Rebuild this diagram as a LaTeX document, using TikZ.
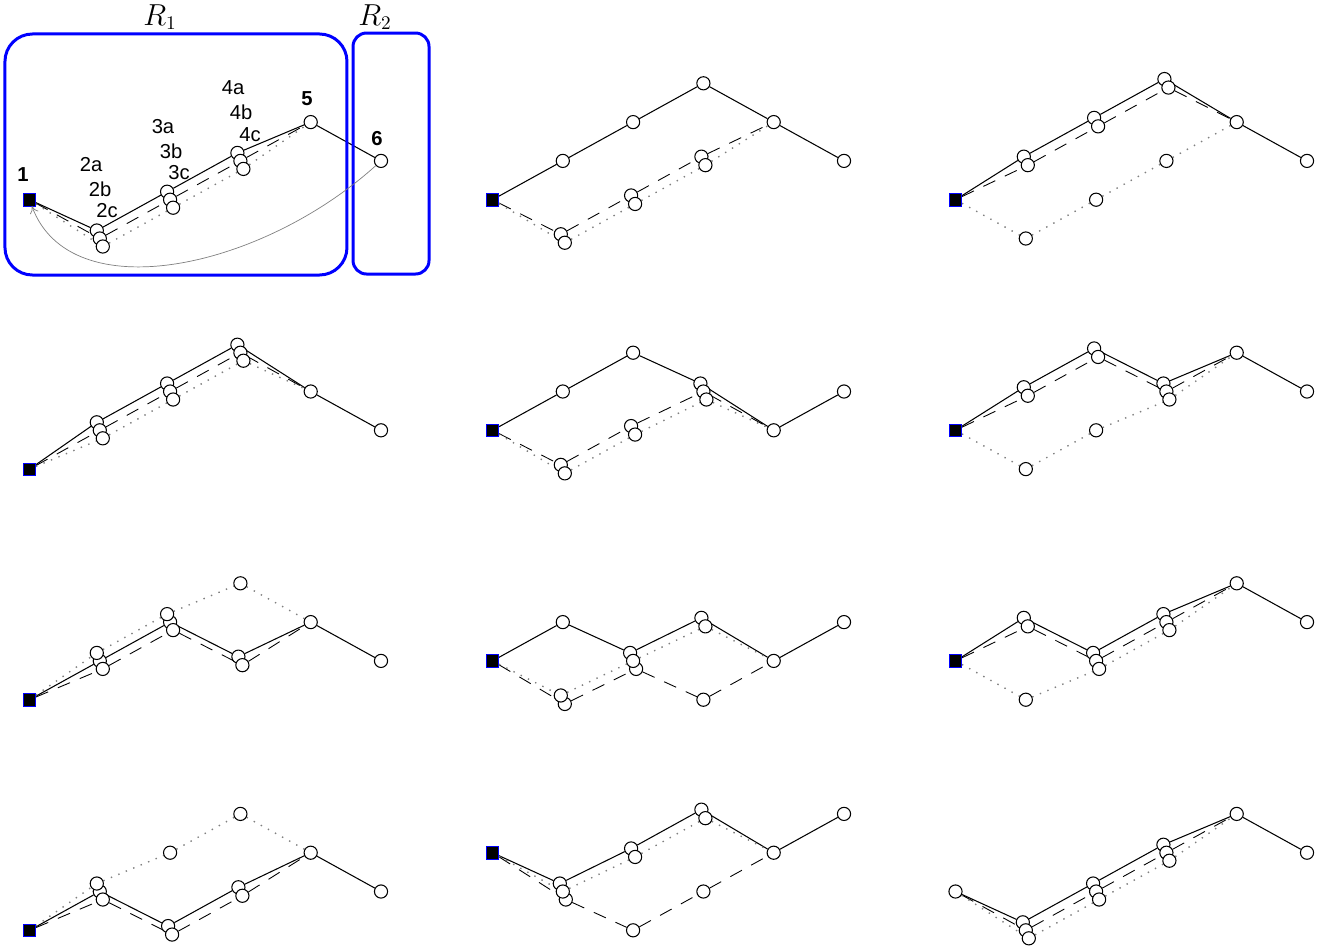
\documentclass[tikz,border=0pt]{standalone}
\usepackage{fontspec}
\setsansfont{Liberation Sans}
\usetikzlibrary{arrows,arrows.meta,backgrounds}
\tikzstyle{vertex}=[circle, draw, fill=white, inner sep=0pt, minimum size=7.5pt, line width=0.6pt]
\tikzstyle{sq}=[rectangle, draw=blue, fill=black, inner sep=0pt, minimum size=7pt, line width=0.4pt]
% shifts for circles that sit on the same lattice point
\tikzstyle{top3}=[xshift=-0.06cm, yshift=0.16cm]
\tikzstyle{mid3}=[]
\tikzstyle{bot3}=[xshift=0.06cm, yshift=-0.16cm]
\tikzstyle{top2}=[xshift=-0.04cm, yshift=0.085cm]
\tikzstyle{bot2}=[xshift=0.04cm, yshift=-0.085cm]
\tikzstyle{one}=[]
\tikzstyle{solidpath}=[line width=0.6pt]
\tikzstyle{dashpath}=[line width=0.5pt, dash pattern=on 7.5pt off 6pt]
\tikzstyle{dotpath}=[line width=0.8pt, gray, dash pattern=on 0.8pt off 3.8pt]
\tikzstyle{region}=[draw=blue, line width=1.7pt]
\tikzstyle{lbl}=[font=\sffamily\fontsize{11.5}{13}\selectfont, inner sep=0pt]
\tikzstyle{blbl}=[font=\sffamily\bfseries\fontsize{11.5}{13}\selectfont, inner sep=0pt]
\newcommand{\vertex}{\node[vertex]}
% #1 name, #2 shift, #3 start shape, #4 start level,
% #5 solid, #6 dashed, #7 dotted (col/level/offset), #8 level of 5, #9 level of 6
\newcommand{\panel}[9]{%
\begin{scope}[shift={#2}]
  \node[#3] (#1-0) at (0,#4) {};
  \foreach \c/\y/\o in {#5} {\node[vertex,\o] (#1-s\c) at (\c,\y) {};}
  \foreach \c/\y/\o in {#6} {\node[vertex,\o] (#1-d\c) at (\c,\y) {};}
  \foreach \c/\y/\o in {#7} {\node[vertex,\o] (#1-t\c) at (\c,\y) {};}
  \vertex (#1-4) at (4,#8) {};
  \vertex (#1-5) at (5,#9) {};
  \begin{pgfonlayer}{background}
    \draw[solidpath] (#1-0)--(#1-s1)--(#1-s2)--(#1-s3)--(#1-4)--(#1-5);
    \draw[dashpath] (#1-0)--(#1-d1)--(#1-d2)--(#1-d3)--(#1-4);
    \draw[dotpath] (#1-0)--(#1-t1)--(#1-t2)--(#1-t3)--(#1-4);
  \end{pgfonlayer}
\end{scope}}

\begin{document}
\begin{tikzpicture}[x=1.406cm, y=0.776cm]
\useasboundingbox (-0.59cm,-14.21cm) rectangle (25.97cm,4.77cm);

% first row
\panel{A}{(0,0)}{sq}{1}{1/0/top3,2/1/top3,3/2/top3}{1/0/mid3,2/1/mid3,3/2/mid3}{1/0/bot3,2/1/bot3,3/2/bot3}{3}{2}
\panel{B}{(9.26cm,0)}{sq}{1}{1/2/one,2/3/one,3/4/one}{1/0/top2,2/1/top2,3/2/top2}{1/0/bot2,2/1/bot2,3/2/bot2}{3}{2}
\panel{C}{(18.52cm,0)}{sq}{1}{1/2/top2,2/3/top2,3/4/top2}{1/2/bot2,2/3/bot2,3/4/bot2}{1/0/one,2/1/one,3/2/one}{3}{2}
% second row
\panel{D}{(0,-4.612cm)}{sq}{0}{1/1/top3,2/2/top3,3/3/top3}{1/1/mid3,2/2/mid3,3/3/mid3}{1/1/bot3,2/2/bot3,3/3/bot3}{2}{1}
\panel{E}{(9.26cm,-4.612cm)}{sq}{1}{1/2/one,2/3/one,3/2/top3}{1/0/top2,2/1/top2,3/2/mid3}{1/0/bot2,2/1/bot2,3/2/bot3}{1}{2}
\panel{F}{(18.52cm,-4.612cm)}{sq}{1}{1/2/top2,2/3/top2,3/2/top3}{1/2/bot2,2/3/bot2,3/2/mid3}{1/0/one,2/1/one,3/2/bot3}{3}{2}
% third row
\panel{G}{(0,-9.224cm)}{sq}{0}{1/1/mid3,2/2/mid3,3/1/top2}{1/1/bot3,2/2/bot3,3/1/bot2}{1/1/top3,2/2/top3,3/3/one}{2}{1}
\panel{H}{(9.26cm,-9.224cm)}{sq}{1}{1/2/one,2/1/top3,3/2/top2}{1/0/bot2,2/1/bot3,3/0/one}{1/0/top2,2/1/mid3,3/2/bot2}{1}{2}
\panel{I}{(18.52cm,-9.224cm)}{sq}{1}{1/2/top2,2/1/top3,3/2/top3}{1/2/bot2,2/1/mid3,3/2/mid3}{1/0/one,2/1/bot3,3/2/bot3}{3}{2}
% fourth row
\panel{J}{(0,-13.836cm)}{sq}{0}{1/1/mid3,2/0/top2,3/1/top2}{1/1/bot3,2/0/bot2,3/1/bot2}{1/1/top3,2/2/one,3/3/one}{2}{1}
\panel{K}{(9.26cm,-13.836cm)}{sq}{2}{1/1/top3,2/2/top2,3/3/top2}{1/1/bot3,2/0/one,3/1/one}{1/1/mid3,2/2/bot2,3/3/bot2}{2}{3}
\panel{L}{(18.52cm,-13.836cm)}{vertex}{1}{1/0/top3,2/1/top3,3/2/top3}{1/0/mid3,2/1/mid3,3/2/mid3}{1/0/bot3,2/1/bot3,3/2/bot3}{3}{2}

% regions R1, R2
\draw[region, rounded corners=0.55cm] (-0.349,-0.941) rectangle (4.516,5.271);
\draw[region, rounded corners=0.27cm] (4.602,-0.915) rectangle (5.683,5.296);
\node (r1) at (1.856,5.71) {\fontsize{16}{18}\selectfont$R_1$};
\node (r2) at (4.915,5.71) {\fontsize{16}{18}\selectfont$R_2$};

% labels of the first panel
\node[blbl] (l1) at (-0.092,1.637) {1};
\node[lbl] (l2a) at (0.875,1.894) {2a};
\node[lbl] (l2b) at (1.003,1.276) {2b};
\node[lbl] (l2c) at (1.102,0.709) {2c};
\node[lbl] (l3a) at (1.899,2.874) {3a};
\node[lbl] (l3b) at (2.013,2.255) {3b};
\node[lbl] (l3c) at (2.127,1.688) {3c};
\node[lbl] (l4a) at (2.895,3.879) {4a};
\node[lbl] (l4b) at (3.009,3.260) {4b};
\node[lbl] (l4c) at (3.137,2.668) {4c};
\node[blbl] (l5) at (3.947,3.595) {5};
\node[blbl] (l6) at (4.943,2.564) {6};

% way back from 6 to 1
\draw[gray, line width=0.4pt, -{To[length=4pt,width=5pt]}] (A-5) .. controls (3.28,-0.81) and (0.58,-1.84) .. (A-0);
\end{tikzpicture}
\end{document}
